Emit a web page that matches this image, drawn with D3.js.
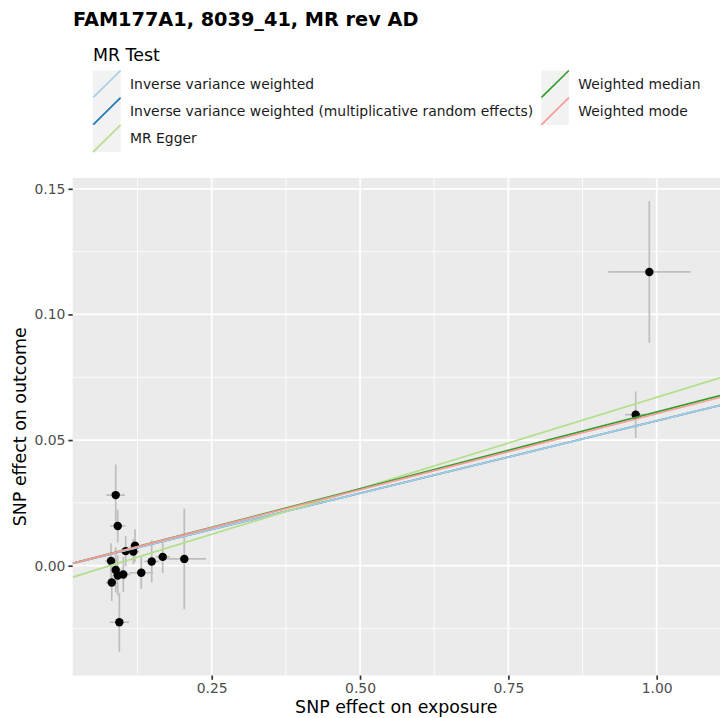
<!DOCTYPE html>
<html>
<head>
<meta charset="utf-8">
<script src="https://cdn.jsdelivr.net/npm/d3@7"></script>
<style>
body { margin: 0; background: #fff; }
text { font-family: "DejaVu Sans", sans-serif; }
</style>
</head>
<body>
<div id="chart"></div>
<script>
var width = 720;
var height = 718;

// SNP estimates
var snp_x  = [0.0882, 0.0916, 0.1207, 0.1179, 0.1050, 0.0803, 0.1489, 0.1674, 0.2038, 0.0882, 0.0916, 0.1010, 0.1313, 0.0815, 0.0943, 0.9876, 0.9646];
var snp_y  = [0.0281, 0.0158, 0.0080, 0.0056, 0.0058, 0.0019, 0.0017, 0.0035, 0.0027, -0.0017, -0.0039, -0.0035, -0.0028, -0.0067, -0.0225, 0.1169, 0.0601];
var se_x   = [0.0155, 0.0130, 0.0080, 0.0100, 0.0080, 0.0100, 0.0120, 0.0120, 0.0365, 0.0100, 0.0080, 0.0120, 0.0200, 0.0100, 0.0163, 0.0694, 0.0180];
var se_y   = [0.0122, 0.0066, 0.0065, 0.0050, 0.0060, 0.0070, 0.0084, 0.0064, 0.0200, 0.0090, 0.0080, 0.0070, 0.0065, 0.0073, 0.0117, 0.0282, 0.0092];

// MR methods (slope / intercept)
var methods    = ["Inverse variance weighted", "Inverse variance weighted (multiplicative random effects)", "MR Egger", "Weighted median", "Weighted mode"];
var slopes     = [0.0577, 0.0577, 0.0727, 0.0612, 0.0605];
var intercepts = [0, 0, -0.0057, 0, 0];
var colours    = ["#A6CEE3", "#1F78B4", "#B2DF8A", "#33A02C", "#FB9A99"];
var draw_order = [1, 0, 2, 3, 4];

var x_ticks = [0.25, 0.50, 0.75, 1.00];
var y_ticks = [0.00, 0.05, 0.10, 0.15];

var panel = {left: 72.7, right: 720, top: 178, bottom: 675.5};

var svg = d3.select("#chart").append("svg")
	.attr("width", width)
	.attr("height", height);

var x = d3.scaleLinear().domain([0.0157, 1.1067]).range([panel.left, panel.right]);
var y = d3.scaleLinear().domain([-0.0437, 0.1543]).range([panel.bottom, panel.top]);

// title
svg.append("text")
	.attr("x", 73).attr("y", 26)
	.style("font-size", "19.3px").style("font-weight", "bold")
	.attr("fill", "#000")
	.text("FAM177A1, 8039_41, MR rev AD");

// legend
var leg = svg.append("g").attr("class", "legend");
leg.append("text")
	.attr("x", 93).attr("y", 61)
	.style("font-size", "17.4px").attr("fill", "#000")
	.text("MR Test");

var key = 27.2;
var leg_pos = [[93, 70.5], [93, 70.5 + key], [93, 70.5 + 2 * key], [541.3, 70.5], [541.3, 70.5 + key]];
methods.forEach(function(m, i) {
	var p = leg_pos[i];
	var g = leg.append("g").attr("transform", "translate(" + p[0] + "," + p[1] + ")");
	g.append("rect").attr("width", 27.6).attr("height", key).attr("fill", "#F2F2F2");
	g.append("line")
		.attr("x1", 0).attr("y1", key).attr("x2", 27.6).attr("y2", 0)
		.attr("stroke", colours[i]).attr("stroke-width", 1.7);
	g.append("text")
		.attr("x", 37).attr("y", key / 2 + 5)
		.style("font-size", "13.9px").attr("fill", "#1a1a1a")
		.text(m);
});

// panel
svg.append("rect")
	.attr("x", panel.left).attr("y", panel.top)
	.attr("width", panel.right - panel.left).attr("height", panel.bottom - panel.top)
	.attr("fill", "#EBEBEB");

svg.append("defs").append("clipPath").attr("id", "clip")
	.append("rect")
	.attr("x", panel.left).attr("y", panel.top)
	.attr("width", panel.right - panel.left).attr("height", panel.bottom - panel.top);

var grid = svg.append("g").attr("clip-path", "url(#clip)");
var x_minor = x_ticks.map(function(t) { return t - 0.125; }).concat([1.125]);
var y_minor = y_ticks.map(function(t) { return t - 0.025; }).concat([0.175]);

grid.selectAll(".xminor").data(x_minor).enter().append("line")
	.attr("x1", d => x(d)).attr("x2", d => x(d))
	.attr("y1", panel.top).attr("y2", panel.bottom)
	.attr("stroke", "#fff").attr("stroke-width", 0.85);
grid.selectAll(".yminor").data(y_minor).enter().append("line")
	.attr("y1", d => y(d)).attr("y2", d => y(d))
	.attr("x1", panel.left).attr("x2", panel.right)
	.attr("stroke", "#fff").attr("stroke-width", 0.85);
grid.selectAll(".xmajor").data(x_ticks).enter().append("line")
	.attr("x1", d => x(d)).attr("x2", d => x(d))
	.attr("y1", panel.top).attr("y2", panel.bottom)
	.attr("stroke", "#fff").attr("stroke-width", 1.7);
grid.selectAll(".ymajor").data(y_ticks).enter().append("line")
	.attr("y1", d => y(d)).attr("y2", d => y(d))
	.attr("x1", panel.left).attr("x2", panel.right)
	.attr("stroke", "#fff").attr("stroke-width", 1.7);

// error bars
var idx = d3.range(snp_x.length);
var bars = svg.append("g").attr("clip-path", "url(#clip)");
bars.selectAll(".ebar").data(idx).enter().append("line")
	.attr("x1", i => x(snp_x[i])).attr("x2", i => x(snp_x[i]))
	.attr("y1", i => y(snp_y[i] - se_y[i])).attr("y2", i => y(snp_y[i] + se_y[i]))
	.attr("stroke", "#BEBEBE").attr("stroke-width", 1.7);
bars.selectAll(".ebarh").data(idx).enter().append("line")
	.attr("y1", i => y(snp_y[i])).attr("y2", i => y(snp_y[i]))
	.attr("x1", i => x(snp_x[i] - se_x[i])).attr("x2", i => x(snp_x[i] + se_x[i]))
	.attr("stroke", "#BEBEBE").attr("stroke-width", 1.7);

// points
svg.append("g").selectAll("circle").data(idx).enter().append("circle")
	.attr("cx", i => x(snp_x[i])).attr("cy", i => y(snp_y[i]))
	.attr("r", 4.2).attr("fill", "#000");

// MR lines
var lines = svg.append("g").attr("clip-path", "url(#clip)");
var xd = x.domain();
draw_order.forEach(function(i) {
	lines.append("line")
		.attr("x1", x(xd[0])).attr("y1", y(intercepts[i] + slopes[i] * xd[0]))
		.attr("x2", x(xd[1])).attr("y2", y(intercepts[i] + slopes[i] * xd[1]))
		.attr("stroke", colours[i]).attr("stroke-width", 1.7);
});

// axes
var xAxis = svg.append("g")
	.attr("transform", "translate(0," + panel.bottom + ")")
	.call(d3.axisBottom(x).tickValues(x_ticks).tickFormat(d3.format(".2f")).tickSize(4.3).tickPadding(3));
var yAxis = svg.append("g")
	.attr("transform", "translate(" + panel.left + ",0)")
	.call(d3.axisLeft(y).tickValues(y_ticks).tickFormat(d3.format(".2f")).tickSize(4.3).tickPadding(3));
[xAxis, yAxis].forEach(function(a) {
	a.select(".domain").remove();
	a.selectAll(".tick line").attr("stroke", "#333333").attr("stroke-width", 1.7);
	a.selectAll(".tick text").attr("fill", "#4D4D4D")
		.style("font-size", "13.9px").style("font-family", "DejaVu Sans, sans-serif");
});

svg.append("text")
	.attr("x", (panel.left + panel.right) / 2).attr("y", 713)
	.attr("text-anchor", "middle")
	.style("font-size", "17.4px").attr("fill", "#000")
	.text("SNP effect on exposure");

svg.append("text")
	.attr("transform", "translate(26," + ((panel.top + panel.bottom) / 2) + ") rotate(-90)")
	.attr("text-anchor", "middle")
	.style("font-size", "17.4px").attr("fill", "#000")
	.text("SNP effect on outcome");
</script>
</body>
</html>
